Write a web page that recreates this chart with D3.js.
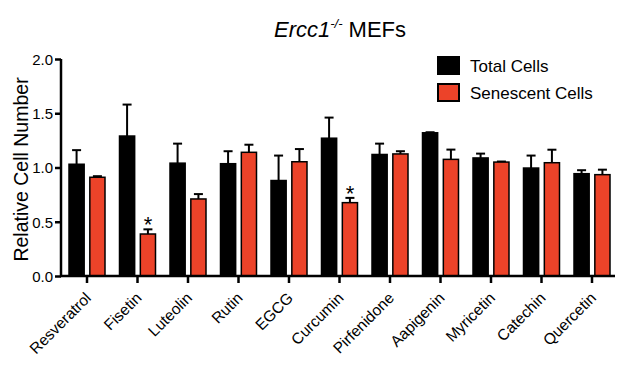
<!DOCTYPE html>
<html>
<head>
<meta charset="utf-8">
<script src="https://cdn.jsdelivr.net/npm/d3@7"></script>
<style>
  body { margin: 0; background: #fff; }
  svg { font-family: "Liberation Sans", Arial, Helvetica, sans-serif; }
</style>
</head>
<body>
<svg id="chart" width="635" height="369"></svg>
<script>
const categories = ["Resveratrol","Fisetin","Luteolin","Rutin","EGCG","Curcumin","Pirfenidone","Aapigenin","Myricetin","Catechin","Quercetin"];
const seriesNames = ["Total Cells","Senescent Cells"];
const totalMean = [1.03, 1.29, 1.04, 1.035, 0.88, 1.27, 1.12, 1.32, 1.088, 0.995, 0.943];
const totalErr  = [0.13, 0.29, 0.18, 0.115, 0.23, 0.19, 0.10, 0.005, 0.04, 0.115, 0.032];
const senMean   = [0.91, 0.387, 0.71, 1.14, 1.053, 0.676, 1.125, 1.075, 1.05, 1.044, 0.934];
const senErr    = [0.01, 0.043, 0.045, 0.07, 0.117, 0.044, 0.025, 0.09, 0.005, 0.12, 0.046];
const significant = [false, true, false, false, false, true, false, false, false, false, false];
const yTicks = [0.0, 0.5, 1.0, 1.5, 2.0];
const colors = ["#000000", "#ec4329"];

const svg = d3.select("#chart");

const x0 = d3.scaleBand().domain(categories).range([61.75, 617.25]).paddingInner(0).paddingOuter(0);
const x1 = d3.scaleBand().domain(seriesNames).range([6.5, 44]).paddingInner(0.2);
const y = d3.scaleLinear().domain([0, 2]).range([276, 59]);

const data = categories.map((c, i) => ({
  cat: c, i,
  vals: [
    {s: seriesNames[0], v: totalMean[i], e: totalErr[i], col: colors[0]},
    {s: seriesNames[1], v: senMean[i], e: senErr[i], col: colors[1]}
  ]
}));

const g = svg.append("g");
const groups = g.selectAll("g.grp").data(data).join("g")
  .attr("class", "grp")
  .attr("transform", d => `translate(${x0(d.cat)},0)`);

// error bars
groups.selectAll("g.err").data(d => d.vals).join("g").attr("class", "err").each(function(d) {
  const gg = d3.select(this);
  const cx = x1(d.s) + x1.bandwidth() / 2;
  gg.append("line").attr("x1", cx).attr("x2", cx).attr("y1", y(d.v)).attr("y2", y(d.v + d.e))
    .attr("stroke", "#000").attr("stroke-width", 2);
  gg.append("line").attr("x1", cx - 4.5).attr("x2", cx + 4.5).attr("y1", y(d.v + d.e)).attr("y2", y(d.v + d.e))
    .attr("stroke", "#000").attr("stroke-width", 2);
});

groups.selectAll("rect").data(d => d.vals).join("rect")
  .attr("x", d => x1(d.s) + 0.75)
  .attr("width", x1.bandwidth() - 1.5)
  .attr("y", d => y(d.v))
  .attr("height", d => y(0) - y(d.v))
  .attr("fill", d => d.col)
  .attr("stroke", "#000")
  .attr("stroke-width", 1.5);

// significance stars
groups.filter(d => significant[d.i]).append("text")
  .attr("x", x1(seriesNames[1]) + x1.bandwidth() / 2)
  .attr("y", d => y(senMean[d.i] + senErr[d.i]) + 3)
  .attr("text-anchor", "middle")
  .attr("font-size", 22)
  .attr("fill", "#000")
  .text("*");

// y axis
const yAxis = d3.axisLeft(y).tickValues(yTicks).tickFormat(d3.format(".1f")).tickSize(6).tickSizeOuter(0);
const ya = svg.append("g").attr("transform", "translate(61,0)").call(yAxis);
ya.select(".domain").attr("stroke-width", 2.5).attr("d", `M0,${y(2)}V${y(0) + 1}`);
ya.selectAll(".tick line").attr("stroke-width", 2.5);
ya.selectAll(".tick text").attr("font-size", 15).attr("fill", "#000").attr("x", -8).attr("dy", "0.36em")
  .style("font-family", "Liberation Sans, Arial, sans-serif");

// x axis
const xAxis = d3.axisBottom(x0).tickSize(7).tickSizeOuter(0);
const xa = svg.append("g").attr("transform", `translate(0,${y(0)})`).call(xAxis);
xa.select(".domain").attr("stroke-width", 2.5).attr("d", "M60,0H615");
xa.selectAll(".tick line").attr("stroke-width", 2.5);
xa.selectAll(".tick text")
  .attr("font-size", 15.5).attr("fill", "#000")
  .attr("text-anchor", "end")
  .attr("transform", "translate(5,23) rotate(-45)")
  .attr("x", 0).attr("y", 0).attr("dy", 0)
  .style("font-family", "Liberation Sans, Arial, sans-serif");

// y axis title
svg.append("text")
  .attr("transform", `translate(28,${(y(0) + y(2)) / 2 + 2}) rotate(-90)`)
  .attr("text-anchor", "middle")
  .attr("font-size", 19.5)
  .attr("fill", "#000")
  .text("Relative Cell Number");

// title
const title = svg.append("text").attr("x", 340).attr("y", 37).attr("text-anchor", "middle").attr("font-size", 22).attr("fill", "#000");
title.append("tspan").attr("font-style", "italic").text("Ercc1");
title.append("tspan").attr("font-style", "italic").attr("font-size", 13).attr("dy", -9).text("-/-");
title.append("tspan").attr("dy", 9).text(" MEFs");

// legend
const legend = svg.append("g");
seriesNames.forEach((s, i) => {
  const ly = 57 + i * 27;
  legend.append("rect").attr("x", 438).attr("y", ly).attr("width", 21).attr("height", 17)
    .attr("fill", colors[i]).attr("stroke", "#000").attr("stroke-width", 2);
  legend.append("text").attr("x", 470).attr("y", ly + 15).attr("font-size", 17).attr("fill", "#000").text(s);
});
</script>
</body>
</html>
